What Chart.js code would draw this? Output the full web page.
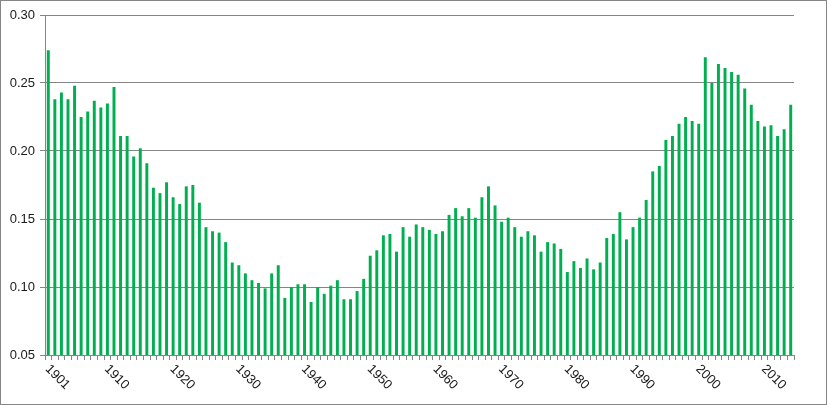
<!DOCTYPE html>
<html>
<head>
<meta charset="UTF-8">
<title>Chart</title>
<script src="https://cdn.jsdelivr.net/npm/chart.js"></script>
<style>
    body { margin: 0; padding: 0; background: #fff; }
    .frame {
        width: 827px;
        height: 405px;
        box-sizing: border-box;
        border: 1px solid #868686;
        background: #fff;
    }
    canvas { display: block; }
</style>
</head>
<body>
<div class="frame">
    <canvas id="chart" width="825" height="403"></canvas>
</div>
<script>
    // data
    const firstYear = 1901;
    const values = [
        0.274, 0.238, 0.243, 0.238, 0.248, 0.225, 0.229, 0.237, 0.232, 0.235,
        0.247, 0.211, 0.211, 0.196, 0.202, 0.191, 0.173, 0.169, 0.177, 0.166,
        0.161, 0.174, 0.175, 0.162, 0.144, 0.141, 0.140, 0.133, 0.118, 0.116,
        0.110, 0.105, 0.103, 0.099, 0.110, 0.116, 0.092, 0.100, 0.102, 0.102,
        0.089, 0.100, 0.095, 0.101, 0.105, 0.091, 0.091, 0.097, 0.106, 0.123,
        0.127, 0.138, 0.139, 0.126, 0.144, 0.137, 0.146, 0.144, 0.142, 0.139,
        0.141, 0.153, 0.158, 0.152, 0.158, 0.151, 0.166, 0.174, 0.160, 0.148,
        0.151, 0.144, 0.137, 0.141, 0.138, 0.126, 0.133, 0.132, 0.128, 0.111,
        0.119, 0.114, 0.121, 0.113, 0.118, 0.136, 0.139, 0.155, 0.135, 0.144,
        0.151, 0.164, 0.185, 0.189, 0.208, 0.211, 0.220, 0.225, 0.222, 0.220,
        0.269, 0.250, 0.264, 0.261, 0.258, 0.256, 0.246, 0.234, 0.222, 0.218,
        0.219, 0.211, 0.216, 0.234
    ];
    const years = values.map((v, i) => String(firstYear + i));
    const tickYears = ['1901', '1910', '1920', '1930', '1940', '1950', '1960', '1970', '1980', '1990', '2000', '2010'];

    const axisGray = '#868686';
    const fontFamily = '"Liberation Sans", Arial, sans-serif';

    // x labels turned clockwise (text runs down to the right from the tick)
    const slantedLabels = {
        id: 'slantedLabels',
        afterDraw(chart) {
            const ctx = chart.ctx;
            const xs = chart.scales.x;
            ctx.save();
            ctx.font = '13px ' + fontFamily;
            ctx.fillStyle = '#1a1a1a';
            ctx.textAlign = 'left';
            ctx.textBaseline = 'middle';
            years.forEach((y, i) => {
                if (!tickYears.includes(y)) return;
                const x = xs.getPixelForValue(i);
                ctx.save();
                ctx.translate(x - 1, xs.top + 12);
                ctx.rotate(Math.PI / 4);
                ctx.fillText(y, 0, 0);
                ctx.restore();
            });
            ctx.restore();
        }
    };

    new Chart(document.getElementById('chart'), {
        type: 'bar',
        data: {
            labels: years,
            datasets: [{
                data: values,
                backgroundColor: '#00B050',
                borderWidth: 0,
                categoryPercentage: 1,
                barPercentage: 0.45
            }]
        },
        options: {
            responsive: false,
            animation: false,
            layout: { padding: { left: 0, right: 32, top: 14, bottom: 0 } },
            plugins: {
                legend: { display: false },
                tooltip: { enabled: false }
            },
            scales: {
                x: {
                    grid: {
                        drawOnChartArea: false,
                        drawTicks: true,
                        tickLength: 5,
                        color: axisGray,
                        offset: true
                    },
                    border: { color: axisGray, width: 1 },
                    ticks: { display: false, autoSkip: false },
                    afterFit(scale) { scale.height = 49; }
                },
                y: {
                    min: 0.05,
                    max: 0.30,
                    grid: {
                        color: axisGray,
                        lineWidth: 1,
                        tickLength: 5
                    },
                    border: { color: axisGray, width: 1 },
                    ticks: {
                        stepSize: 0.05,
                        padding: 5,
                        color: '#1a1a1a',
                        font: { family: fontFamily, size: 13 },
                        callback: v => v.toFixed(2)
                    },
                    afterFit(scale) { scale.width = 44; }
                }
            }
        },
        plugins: [slantedLabels]
    });
</script>
</body>
</html>
